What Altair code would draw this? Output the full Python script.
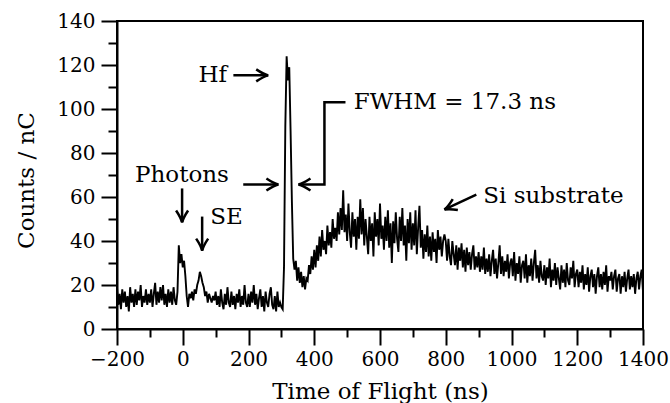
import altair as alt
import pandas as pd

FONT = "DejaVu Serif"

# ---- spectrum data (4 ns bins, -200 .. 1400 ns) ----
time_ns = list(range(-200, 1401, 4))
counts_a = [19, 11, 16, 9, 18, 12, 17, 10, 15, 8, 19, 12, 16, 10, 18, 11, 17, 13, 20, 10, 15, 12, 18, 11, 16]
counts_b = [12, 18, 10, 16, 21, 11, 17, 12, 19, 13, 20, 11, 16, 10, 18, 12, 17, 11, 19, 13, 11, 17, 38, 30, 34]
counts_c = [28, 31, 24, 15, 10, 16, 14, 17, 13, 18, 16, 20, 22, 26, 24, 21, 19, 15, 17, 12, 16, 14, 12, 15, 13]
counts_d = [17, 11, 15, 10, 18, 12, 9, 16, 11, 19, 12, 10, 17, 11, 15, 9, 16, 12, 18, 10, 15, 11, 20, 12, 10]
counts_e = [16, 10, 17, 12, 20, 11, 16, 9, 14, 18, 10, 15, 8, 17, 12, 10, 16, 19, 11, 9, 15, 8, 17, 10, 12]
counts_f = [10, 9, 28, 92, 124, 113, 119, 90, 58, 32, 27, 31, 22, 28, 21, 26, 19, 24, 18, 23, 22, 29, 25, 33, 27]
counts_g = [36, 28, 38, 31, 42, 33, 45, 36, 40, 34, 47, 38, 44, 37, 50, 41, 46, 40, 53, 43, 55, 45, 63, 44, 52]
counts_h = [40, 57, 44, 37, 53, 42, 50, 36, 51, 41, 59, 43, 55, 38, 50, 42, 34, 51, 40, 48, 33, 53, 42, 50, 38]
counts_i = [57, 41, 47, 36, 51, 40, 54, 37, 48, 30, 49, 39, 53, 41, 35, 51, 40, 55, 38, 47, 31, 50, 39, 53, 36]
counts_j = [48, 38, 54, 34, 46, 56, 37, 45, 32, 43, 35, 47, 33, 42, 31, 44, 35, 41, 30, 45, 36, 42, 33, 40, 43]
counts_k = [40, 31, 41, 33, 29, 40, 34, 29, 38, 27, 37, 31, 39, 28, 36, 26, 37, 29, 35, 27, 34, 38, 27, 33, 28]
counts_l = [35, 26, 33, 27, 37, 25, 32, 26, 34, 24, 31, 36, 25, 32, 23, 30, 38, 25, 33, 24, 31, 26, 34, 23, 30]
counts_m = [32, 24, 35, 22, 30, 25, 33, 21, 29, 31, 23, 34, 21, 29, 24, 32, 22, 30, 36, 23, 29, 21, 31, 24, 22]
counts_n = [29, 20, 28, 23, 32, 19, 27, 22, 30, 20, 28, 23, 18, 29, 21, 27, 19, 30, 22, 20, 28, 23, 31, 19, 25]
counts_o = [27, 19, 26, 21, 29, 18, 25, 20, 28, 17, 24, 27, 19, 25, 16, 24, 28, 19, 25, 18, 26, 20, 29, 17, 24]
counts_p = [22, 26, 18, 24, 27, 17, 23, 25, 16, 24, 19, 26, 17, 23, 27, 18, 24, 19, 25, 16, 23, 26, 18, 24, 27, 17]
counts = (counts_a + counts_b + counts_c + counts_d + counts_e + counts_f + counts_g + counts_h
          + counts_i + counts_j + counts_k + counts_l + counts_m + counts_n + counts_o + counts_p)

# ---- axes ----
x_major = [-200, 0, 200, 400, 600, 800, 1000, 1200, 1400]
x_minor = [-100, 100, 300, 500, 700, 900, 1100, 1300]
y_major = [0, 20, 40, 60, 80, 100, 120, 140]
y_minor = [10, 30, 50, 70, 90, 110, 130]

# ---- annotations ----
label_text = ["Hf", "FWHM = 17.3 ns", "Photons", "SE", "Si substrate"]
label_x = [135, 520, -2.5, 84, 914]
label_y = [115.3, 103, 70.2, 51.1, 60.6]
label_align = ["right", "left", "center", "left", "left"]

# arrow shafts: id, x, y (in order)
shaft_id = ["hf", "hf", "fw1", "fw1", "fw2", "fw2", "fw2", "fw2", "ph", "ph", "se", "se", "si", "si"]
shaft_x = [154, 259, 184, 290, 495, 431, 431, 353, -2, -2, 59, 59, 893, 797]
shaft_y = [115.3, 115.3, 65.7, 65.7, 103.1, 103.1, 65.7, 65.7, 63.9, 48.6, 51.1, 35.8, 61.1, 54.4]
# arrow heads: tip position and direction (deg, clockwise from +x)
head_x = [260, 291, 352, -2, 59, 796]
head_y = [115.3, 65.7, 65.7, 48.4, 35.6, 54.3]
head_angle = [0, 0, 180, 90, 90, 155]

df = pd.DataFrame({"t": time_ns, "c": counts})
df_shaft = pd.DataFrame({"id": shaft_id, "x": shaft_x, "y": shaft_y, "o": list(range(len(shaft_x)))})
df_head = pd.DataFrame({"x": head_x, "y": head_y, "a": head_angle})
df_lab = pd.DataFrame({"x": label_x, "y": label_y, "text": label_text, "al": label_align})

xs = alt.Scale(domain=[-200, 1400], nice=False, zero=False)
ys = alt.Scale(domain=[0, 140], nice=False, zero=False)

common = dict(domainColor="black", domainWidth=2, tickColor="black", tickWidth=2, grid=False,
              labelFont=FONT, labelFontSize=20, labelColor="black", labelFlush=False,
              labelOverlap=False, labelBound=False, titleFont=FONT, titleFontSize=23,
              titleColor="black", titleFontWeight="normal")

line = alt.Chart(df).mark_line(color="black", strokeWidth=1.9).encode(
    x=alt.X("t:Q", scale=xs, axis=alt.Axis(values=x_major, format="d", tickSize=16, labelPadding=4,
                                           orient="bottom", title="Time of Flight (ns)",
                                           titleX=263, titleY=69, titleBaseline="alphabetic",
                                           titleAlign="center", **common)),
    y=alt.Y("c:Q", scale=ys, axis=alt.Axis(values=y_major, format="d", tickSize=16, labelPadding=6,
                                           orient="left", title="Counts / nC",
                                           titleX=-84, titleY=159, titleAngle=270,
                                           titleBaseline="alphabetic", titleAlign="center", **common)),
)

minor = alt.Chart(df).mark_line(strokeOpacity=0).encode(
    x=alt.X("t:Q", scale=xs, axis=alt.Axis(values=x_minor, tickSize=8, labels=False, title=None,
                                           orient="bottom", domain=False, tickColor="black",
                                           tickWidth=2, grid=False)),
    y=alt.Y("c:Q", scale=ys, axis=alt.Axis(values=y_minor, tickSize=9, labels=False, title=None,
                                           orient="left", domain=False, tickColor="black",
                                           tickWidth=2, grid=False)),
)

shafts = alt.Chart(df_shaft).mark_line(color="black", strokeWidth=2.5).encode(
    x=alt.X("x:Q", scale=xs, axis=None),
    y=alt.Y("y:Q", scale=ys, axis=None),
    detail="id:N",
    order="o:Q",
)

heads = alt.Chart(df_head).mark_point(
    shape="M -1 -0.5 Q -0.4 -0.1 0 0 Q -0.4 0.1 -1 0.5",
    filled=False, stroke="black", strokeWidth=2.5, size=576, opacity=1,
).encode(
    x=alt.X("x:Q", scale=xs, axis=None),
    y=alt.Y("y:Q", scale=ys, axis=None),
    angle=alt.Angle("a:Q", scale=None),
)

texts = []
for al in ["left", "right", "center"]:
    texts.append(
        alt.Chart(df_lab).transform_filter(alt.datum.al == al).mark_text(
            font=FONT, fontSize=23, color="black", align=al, baseline="middle"
        ).encode(
            x=alt.X("x:Q", scale=xs, axis=None),
            y=alt.Y("y:Q", scale=ys, axis=None),
            text="text:N",
        )
    )

chart = alt.layer(minor, line, shafts, heads, *texts).resolve_axis(
    x="independent", y="independent"
).properties(
    width=526, height=308, autosize="none",
    padding={"left": 117, "top": 21, "right": 27, "bottom": 74},
).configure_view(stroke="black", strokeWidth=2)

chart.save("out.html", embed_options={"renderer": "svg", "actions": False})
